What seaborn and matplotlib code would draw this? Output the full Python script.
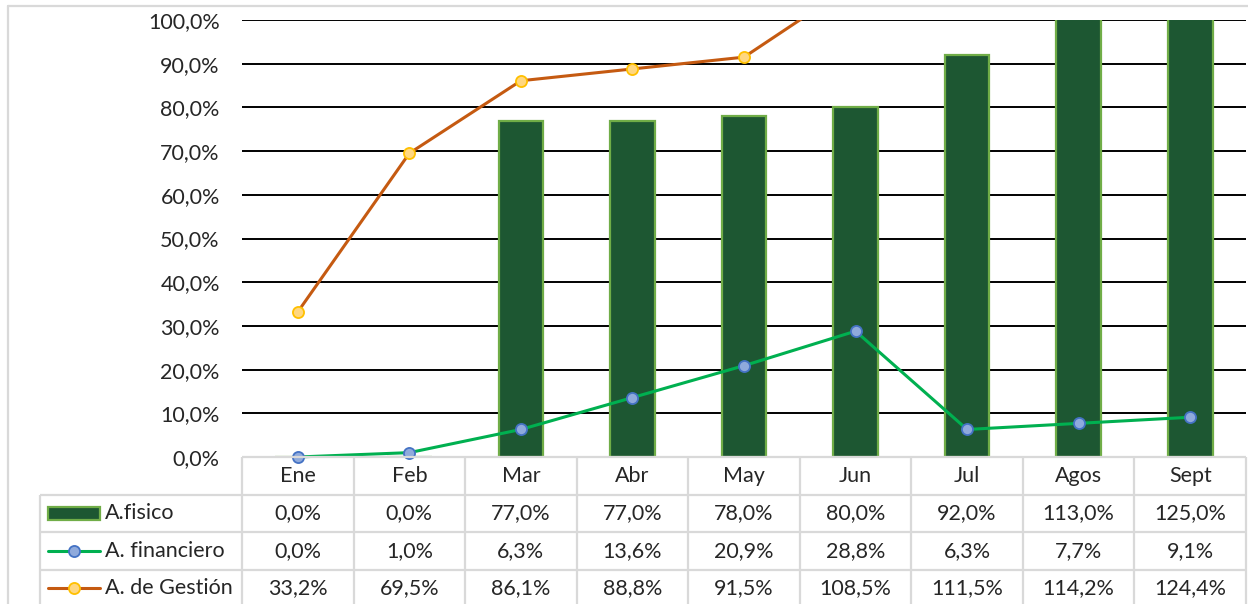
import numpy as np
import matplotlib
matplotlib.use("Agg")
import matplotlib.pyplot as plt
from matplotlib.patches import Rectangle
from matplotlib.lines import Line2D
import seaborn as sns

#### Data ####
months = ["Ene", "Feb", "Mar", "Abr", "May", "Jun", "Jul", "Agos", "Sept"]
fisico = [0.0, 0.0, 77.0, 77.0, 78.0, 80.0, 92.0, 113.0, 125.0]
financiero = [0.0, 1.0, 6.3, 13.6, 20.9, 28.8, 6.3, 7.7, 9.1]
gestion = [33.2, 69.5, 86.1, 88.8, 91.5, 108.5, 111.5, 114.2, 124.4]
series_names = ["A.fisico", "A. financiero", "A. de Gestión"]
y_ticks = list(range(0, 101, 10))

#### Style ####
sns.set_style("white")
plt.rcParams["font.family"] = ["Lato", "DejaVu Sans"]
FS = 15.5

bar_color = "#1d5732"
bar_edge = "#70ad47"
fin_line, fin_face, fin_edge = "#00b050", "#8faadc", "#4472c4"
ges_line, ges_face, ges_edge = "#c55a11", "#ffd780", "#ffc000"
grid_gray = "#d9d9d9"

W, H = 1248, 604
def fx(px): return px / W
def fy(py): return 1 - py / H

fig = plt.figure(figsize=(W / 100, H / 100), dpi=100)

# chart border (cropped)
fig.add_artist(Line2D([fx(8), 1], [fy(6), fy(6)], color=grid_gray, lw=1.6))
fig.add_artist(Line2D([fx(8), fx(8)], [fy(6), 0], color=grid_gray, lw=1.6))

# main plot
ax = fig.add_axes([fx(242), fy(457), fx(1246) - fx(242), fy(20) - fy(457)])
x_idx = np.arange(len(months))

sns.barplot(x=x_idx, y=fisico, color=bar_color, width=0.4, edgecolor=bar_edge,
            linewidth=1.6, saturation=1, ax=ax, zorder=2)
sns.lineplot(x=x_idx, y=gestion, color=ges_line, lw=2.2, marker="o", markersize=8,
             markerfacecolor=ges_face, markeredgecolor=ges_edge, markeredgewidth=1.3,
             ax=ax, zorder=3)
sns.lineplot(x=x_idx, y=financiero, color=fin_line, lw=2.2, marker="o", markersize=8,
             markerfacecolor=fin_face, markeredgecolor=fin_edge, markeredgewidth=1.3,
             ax=ax, zorder=4, clip_on=False)

ax.set_xlim(-0.5, len(months) - 0.5)
ax.set_ylim(0, 100)
ax.set_yticks(y_ticks)
ax.set_yticklabels([f"{v:.1f}%".replace(".", ",") for v in y_ticks], fontsize=FS)
ax.set_xticks([])
ax.set_xlabel("")
ax.set_ylabel("")
ax.tick_params(axis="y", length=0, pad=16)
ax.yaxis.grid(True, color="black", lw=1.4)
ax.get_ygridlines()[0].set_visible(False)
ax.set_axisbelow(True)
for s in ax.spines.values():
    s.set_visible(False)
ax.set_facecolor("none")

# data table
ax_t = fig.add_axes([fx(40), fy(607), fx(1246) - fx(40), fy(457) - fy(607)])
cw = (1246 - 242) / len(months)
xleft = -0.5 - (242 - 40) / cw
n = len(months)
ax_t.set_xlim(xleft, n - 0.5)
ax_t.set_ylim(4, 0)
ax_t.axis("off")

ax_t.hlines(0, -0.5, n - 0.5, color=grid_gray, lw=1.6, clip_on=False)
ax_t.hlines([1, 2, 3, 4], xleft, n - 0.5, color=grid_gray, lw=1.6, clip_on=False)
ax_t.vlines(np.arange(n + 1) - 0.5, 0, 4, color=grid_gray, lw=1.6, clip_on=False)
ax_t.vlines(xleft, 1, 4, color=grid_gray, lw=1.6, clip_on=False)

for i, m in enumerate(months):
    ax_t.text(i, 0.52, m, ha="center", va="center", fontsize=FS)
for r, vals in enumerate([fisico, financiero, gestion], start=1):
    for i, v in enumerate(vals):
        ax_t.text(i, r + 0.5, f"{v:.1f}%".replace(".", ","), ha="center", va="center", fontsize=FS)

# legend keys
k0, k1 = xleft + 8 / cw, xleft + 60 / cw
ax_t.add_patch(Rectangle((k0, 1.5 - 0.18), k1 - k0, 0.36, facecolor=bar_color,
                         edgecolor=bar_edge, lw=1.6, clip_on=False))
ax_t.plot([k0, k1], [2.5, 2.5], color=fin_line, lw=2.2, clip_on=False)
ax_t.plot([(k0 + k1) / 2], [2.5], "o", ms=8, mfc=fin_face, mec=fin_edge, mew=1.3, clip_on=False)
ax_t.plot([k0, k1], [3.5, 3.5], color=ges_line, lw=2.2, clip_on=False)
ax_t.plot([(k0 + k1) / 2], [3.5], "o", ms=8, mfc=ges_face, mec=ges_edge, mew=1.3, clip_on=False)
for r, name in enumerate(series_names, start=1):
    ax_t.text(xleft + 65 / cw, r + 0.5, name, ha="left", va="center", fontsize=FS)

fig.savefig("out.png", dpi=100)
